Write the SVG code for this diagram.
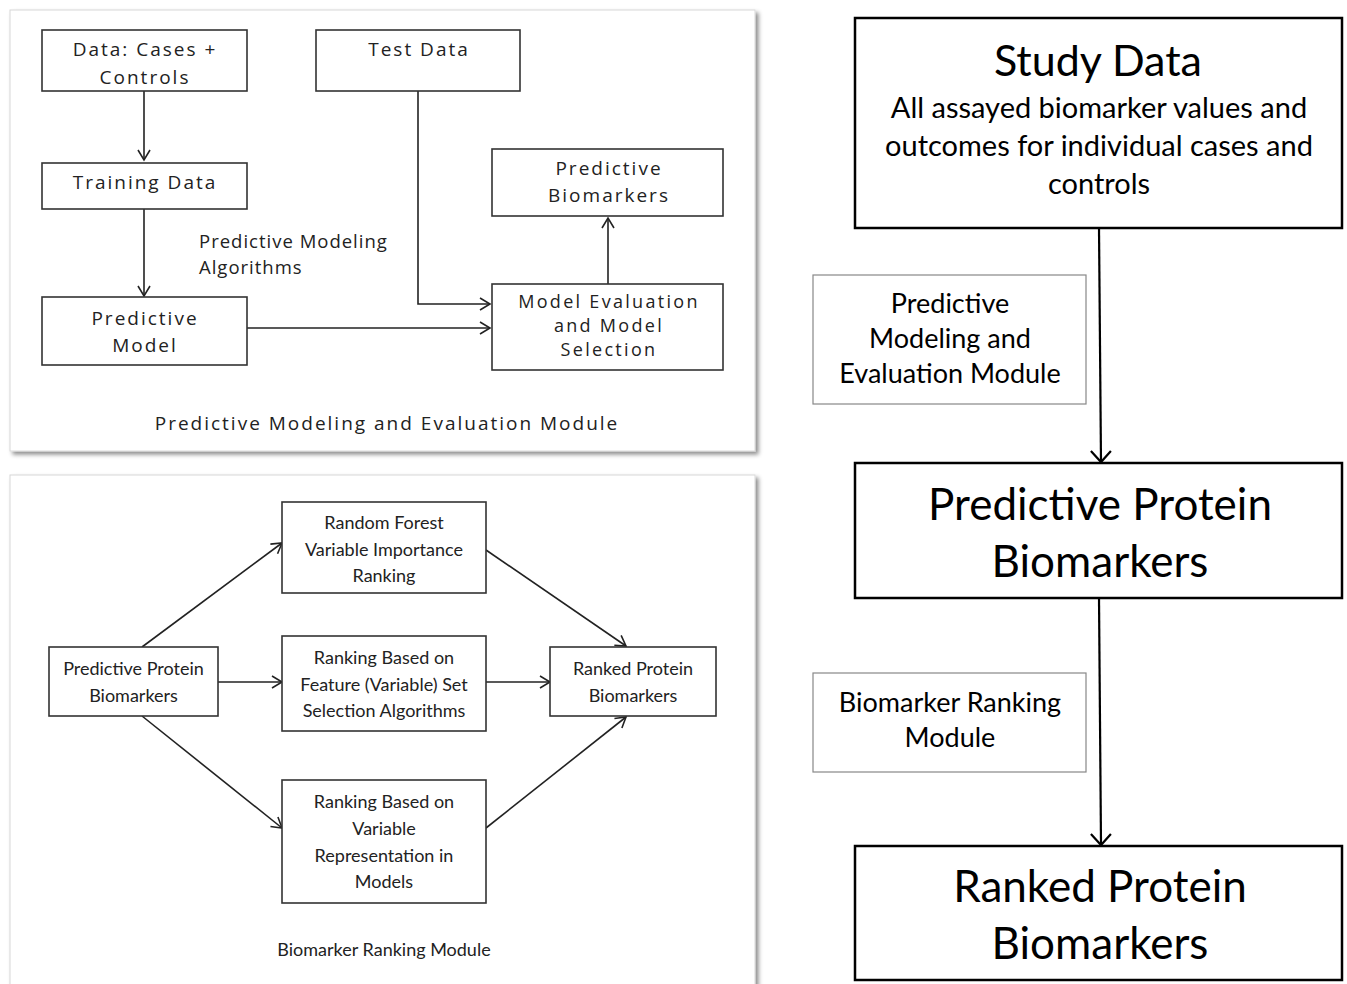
<svg xmlns="http://www.w3.org/2000/svg" width="1347" height="984" viewBox="0 0 1347 984">
<style>
.panel{fill:#fff;stroke:#d8d8d8;stroke-width:1}
.nb{fill:#fff;stroke:#333;stroke-width:1.6}
.t1{font-family:"Open Sans","Liberation Sans",sans-serif;font-size:19px;fill:#222;text-anchor:middle;letter-spacing:2px}
.t1s{font-family:"Open Sans","Liberation Sans",sans-serif;font-size:18px;fill:#222;text-anchor:middle;letter-spacing:2.3px}
.t1l{font-family:"Open Sans","Liberation Sans",sans-serif;font-size:18.5px;fill:#222;letter-spacing:1px}
.t2{font-family:Lato,"Liberation Sans",sans-serif;font-size:18px;fill:#222;text-anchor:middle}
.big{fill:#fff;stroke:#000;stroke-width:2.5}
.mod{fill:#fff;stroke:#888;stroke-width:1.2}
.tb{font-family:Lato,"Liberation Sans",sans-serif;fill:#000;text-anchor:middle}
.c{fill:none;stroke:#222;stroke-width:1.6}
.cb{fill:none;stroke:#000;stroke-width:2.2}
</style>
<defs>
<marker id="a" markerWidth="14" markerHeight="14" refX="12" refY="7" orient="auto" markerUnits="userSpaceOnUse">
<path d="M2,1 L12,7 L2,13" fill="none" stroke="#222" stroke-width="1.6"/>
</marker>
<marker id="ab" markerWidth="24" markerHeight="24" refX="21" refY="12" orient="auto" markerUnits="userSpaceOnUse">
<path d="M10,2 L21,12 L10,22" fill="none" stroke="#000" stroke-width="2.2"/>
</marker>
<filter id="sh" x="-5%" y="-5%" width="110%" height="110%">
<feDropShadow dx="3" dy="3" stdDeviation="2" flood-color="#000" flood-opacity="0.45"/>
</filter>
</defs>
<rect width="1347" height="984" fill="#fff"/>

<g id="panel-top">
<rect class="panel" x="10" y="10" width="745" height="441" filter="url(#sh)"/>
</g>
<g id="panel-bottom">
<rect class="panel" x="10" y="475" width="745" height="520" filter="url(#sh)"/>
</g>

<g id="connectors">
<line class="c" x1="144" y1="91" x2="144" y2="160" marker-end="url(#a)"/>
<line class="c" x1="144" y1="209" x2="144" y2="296" marker-end="url(#a)"/>
<polyline class="c" points="418,91 418,304 490,304" marker-end="url(#a)"/>
<line class="c" x1="247" y1="328" x2="490" y2="328" marker-end="url(#a)"/>
<line class="c" x1="608" y1="284" x2="608" y2="218" marker-end="url(#a)"/>

<line class="c" x1="142" y1="647" x2="282" y2="543" marker-end="url(#a)"/>
<line class="c" x1="218" y1="682" x2="282" y2="682" marker-end="url(#a)"/>
<line class="c" x1="142" y1="716" x2="282" y2="828" marker-end="url(#a)"/>
<line class="c" x1="486" y1="550" x2="626" y2="646" marker-end="url(#a)"/>
<line class="c" x1="486" y1="682" x2="550" y2="682" marker-end="url(#a)"/>
<line class="c" x1="486" y1="828" x2="626" y2="717" marker-end="url(#a)"/>

<line class="cb" x1="1099" y1="228" x2="1101" y2="462" marker-end="url(#ab)"/>
<line class="cb" x1="1099" y1="598" x2="1101" y2="845" marker-end="url(#ab)"/>
</g>

<g id="n-data">
<rect class="nb" x="42" y="30" width="205" height="61"/>
<text class="t1" x="145" y="56">Data: Cases +</text>
<text class="t1" x="145" y="84">Controls</text>
</g>
<g id="n-test">
<rect class="nb" x="316" y="30" width="204" height="61"/>
<text class="t1" x="419" y="56">Test Data</text>
</g>
<g id="n-training">
<rect class="nb" x="42" y="163" width="205" height="46"/>
<text class="t1" x="145" y="189">Training Data</text>
</g>
<g id="n-predbio">
<rect class="nb" x="492" y="149" width="231" height="67"/>
<text class="t1" x="609" y="175">Predictive</text>
<text class="t1" x="609" y="202">Biomarkers</text>
</g>
<g id="n-predmodel">
<rect class="nb" x="42" y="297" width="205" height="68"/>
<text class="t1" x="145" y="325">Predictive</text>
<text class="t1" x="145" y="352">Model</text>
</g>
<g id="n-modeleval">
<rect class="nb" x="492" y="284" width="231" height="86"/>
<text class="t1s" x="609" y="308">Model Evaluation</text>
<text class="t1s" x="609" y="332">and Model</text>
<text class="t1s" x="609" y="356">Selection</text>
</g>
<g id="l-algos">
<text class="t1l" x="199" y="248">Predictive Modeling</text>
<text class="t1l" x="199" y="274">Algorithms</text>
</g>
<g id="l-caption-top">
<text class="t1" x="387" y="430">Predictive Modeling and Evaluation Module</text>
</g>

<g id="n-ppb">
<rect class="nb" x="49" y="647" width="169" height="69"/>
<text class="t2" x="133.5" y="675">Predictive Protein</text>
<text class="t2" x="133.5" y="702">Biomarkers</text>
</g>
<g id="n-rf">
<rect class="nb" x="282" y="502" width="204" height="91"/>
<text class="t2" x="384" y="529">Random Forest</text>
<text class="t2" x="384" y="556">Variable Importance</text>
<text class="t2" x="384" y="582">Ranking</text>
</g>
<g id="n-feature">
<rect class="nb" x="282" y="636" width="204" height="95"/>
<text class="t2" x="384" y="664">Ranking Based on</text>
<text class="t2" x="384" y="691">Feature (Variable) Set</text>
<text class="t2" x="384" y="717">Selection Algorithms</text>
</g>
<g id="n-repr">
<rect class="nb" x="282" y="780" width="204" height="123"/>
<text class="t2" x="384" y="808">Ranking Based on</text>
<text class="t2" x="384" y="835">Variable</text>
<text class="t2" x="384" y="862">Representation in</text>
<text class="t2" x="384" y="888">Models</text>
</g>
<g id="n-ranked-small">
<rect class="nb" x="550" y="647" width="166" height="69"/>
<text class="t2" x="633" y="675">Ranked Protein</text>
<text class="t2" x="633" y="702">Biomarkers</text>
</g>
<g id="l-caption-bottom">
<text class="t2" x="384" y="956">Biomarker Ranking Module</text>
</g>

<g id="n-study">
<rect class="big" x="855" y="18" width="487" height="210"/>
<text class="tb" x="1098" y="76" font-size="43">Study Data</text>
<text class="tb" x="1099" y="118" font-size="29">All assayed biomarker values and</text>
<text class="tb" x="1099" y="156" font-size="29">outcomes for individual cases and</text>
<text class="tb" x="1099" y="194" font-size="29">controls</text>
</g>
<g id="n-mod1">
<rect class="mod" x="813" y="275" width="273" height="129"/>
<text class="tb" x="950" y="313" font-size="27">Predictive</text>
<text class="tb" x="950" y="348" font-size="27">Modeling and</text>
<text class="tb" x="950" y="383" font-size="27">Evaluation Module</text>
</g>
<g id="n-ppb-big">
<rect class="big" x="855" y="463" width="487" height="135"/>
<text class="tb" x="1100" y="520" font-size="44">Predictive Protein</text>
<text class="tb" x="1100" y="577" font-size="44">Biomarkers</text>
</g>
<g id="n-mod2">
<rect class="mod" x="813" y="673" width="273" height="99"/>
<text class="tb" x="950" y="712" font-size="27">Biomarker Ranking</text>
<text class="tb" x="950" y="747" font-size="27">Module</text>
</g>
<g id="n-ranked-big">
<rect class="big" x="855" y="846" width="487" height="134"/>
<text class="tb" x="1100" y="902" font-size="44">Ranked Protein</text>
<text class="tb" x="1100" y="959" font-size="44">Biomarkers</text>
</g>
</svg>
